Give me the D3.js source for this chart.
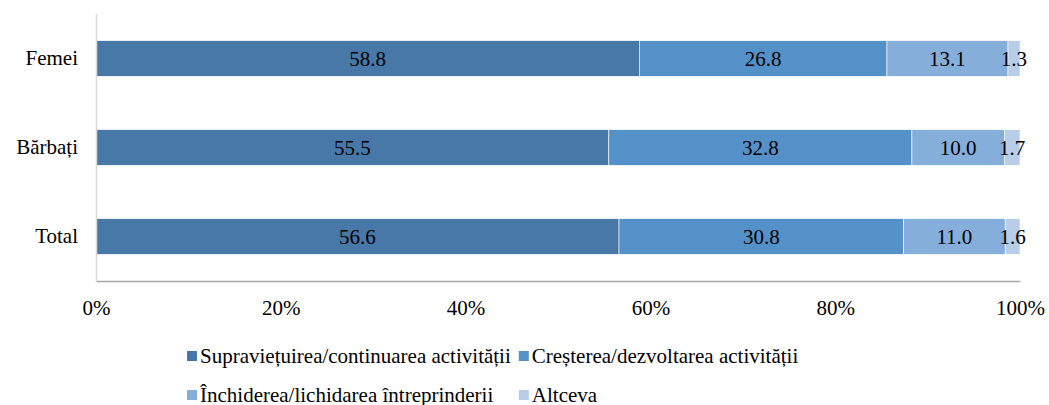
<!DOCTYPE html>
<html>
<head>
<meta charset="utf-8">
<script src="https://cdn.jsdelivr.net/npm/d3@7"></script>
</head>
<body style="margin:0">
<script>
// data
let categories = ['Femei', 'Bărbați', 'Total']
let seriesNames = ['Supraviețuirea/continuarea activității', 'Creșterea/dezvoltarea activității',
    'Închiderea/lichidarea întreprinderii', 'Altceva']
let survival = [58.8, 55.5, 56.6]
let growth = [26.8, 32.8, 30.8]
let closing = [13.1, 10.0, 11.0]
let other = [1.3, 1.7, 1.6]
let xTicks = [0, 20, 40, 60, 80, 100]
let colors = ['#4878a8', '#5591c9', '#86aedb', '#b7cde8']

let fontSize = 21
let fontFamily = `"Liberation Serif", Tinos, "Times New Roman", serif`

let svgWidth = 1049
let svgHeight = 405
let margin = { left: 96, right: 29, top: 14, bottom: 124 }
let width = svgWidth - margin.left - margin.right
let height = svgHeight - margin.top - margin.bottom

let root = d3.select('body')
    .append('svg')
    .attr('width', svgWidth)
    .attr('height', svgHeight)

let svg = root.append('g')
    .attr('transform', `translate(${margin.left},${margin.top})`)

let rows = categories.map((c, i) => ({
    cat: c,
    vals: [survival[i], growth[i], closing[i], other[i]]
}))

let xScale = d3.scaleLinear().domain([0, 100]).range([0, width])
let yScale = d3.scaleBand().domain(categories).range([0, height]).paddingInner(0.6).paddingOuter(0.3)

// bars + value labels
rows.forEach(r => {
    let start = 0
    r.vals.forEach((v, j) => {
        let x0 = xScale(start), x1 = xScale(start + v)
        svg.append('rect')
            .attr('x', x0)
            .attr('y', yScale(r.cat))
            .attr('width', x1 - x0)
            .attr('height', yScale.bandwidth())
            .attr('fill', colors[j])
            .attr('stroke', '#fff')
            .attr('stroke-width', 0.6)
        svg.append('text')
            .attr('x', (x0 + x1) / 2)
            .attr('y', yScale(r.cat) + yScale.bandwidth() / 2 + 7)
            .attr('text-anchor', 'middle')
            .attr('font-size', fontSize)
            .style('font-family', fontFamily)
            .text(v.toFixed(1))
        start += v
    })
})

// axes (no ticks, just labels and the two axis lines)
let xAxis = d3.axisBottom(xScale).tickValues(xTicks).tickFormat(d => d + '%').tickSize(0).tickPadding(19)
let yAxis = d3.axisLeft(yScale).tickSize(0).tickPadding(18)

let gx = svg.append('g').attr('transform', `translate(0,${height})`).call(xAxis)
    .attr('font-family', null).attr('font-size', null)
gx.select('.domain').attr('stroke', '#a6a6a6').attr('stroke-width', 1.5)

let gy = svg.append('g').call(yAxis)
    .attr('font-family', null).attr('font-size', null)
gy.select('.domain').attr('stroke', '#d9d9d9').attr('stroke-width', 1.5)

root.selectAll('.tick text')
    .attr('fill', '#000')
    .attr('font-size', fontSize)
    .style('font-family', fontFamily)

// legend: two rows, two columns; second column moves right if the text is wider
let rowY = [356, 395]
let legendItems = seriesNames.map((n, i) => {
    let g = root.append('g')
    g.append('rect').attr('x', 0).attr('y', -5).attr('width', 10).attr('height', 10).attr('fill', colors[i])
    let t = g.append('text').attr('x', 13).attr('y', 7)
        .attr('font-size', fontSize)
        .style('font-family', fontFamily)
        .text(n)
    return { g: g, w: t.node().getComputedTextLength() }
})
let col1 = 187
let col2 = Math.max(448, col1 + 13 + Math.max(legendItems[0].w, legendItems[2].w) + 8)
legendItems.forEach((it, i) => {
    let x = i % 2 == 0 ? col1 : col2
    it.g.attr('transform', `translate(${x},${rowY[Math.floor(i / 2)]})`)
})
</script>
</body>
</html>
